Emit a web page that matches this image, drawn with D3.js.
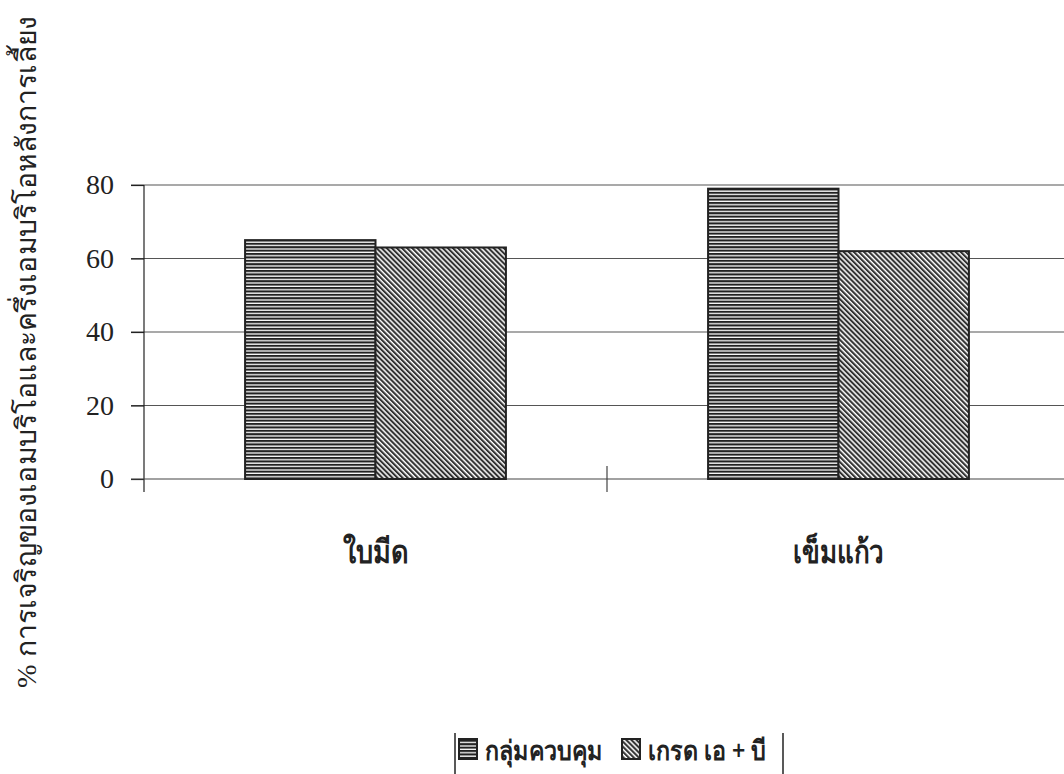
<!DOCTYPE html>
<html>
<head>
<meta charset="utf-8">
<script src="https://cdn.jsdelivr.net/npm/d3@7"></script>
<style>
  body { margin: 0; background: #fff; }
  svg { display: block; }
</style>
</head>
<body>
<div id="chart"></div>
<script>
// chart data
const categories = ["ใบมีด", "เข็มแก้ว"];
const seriesNames = ["กลุ่มควบคุม", "เกรด เอ + บี"];
const controlValues = [65, 79];
const gradeABValues = [63, 62];
const yTicks = [0, 20, 40, 60, 80];
const yTitle = "% การเจริญของเอมบริโอและครึ่งเอมบริโอหลังการเลี้ยง";

const width = 1064, height = 774;
const margin = {top: 185, right: -6, bottom: 295, left: 144};
const plotW = width - margin.left - margin.right;
const plotH = height - margin.top - margin.bottom;

const svg = d3.select("#chart").append("svg")
    .attr("width", width)
    .attr("height", height);

// hatch patterns
let defs = svg.append("defs");
let hp = defs.append("pattern")
    .attr("id", "hstripe")
    .attr("patternUnits", "userSpaceOnUse")
    .attr("width", 8).attr("height", 3.4);
hp.append("rect").attr("width", 8).attr("height", 3.4).attr("fill", "#fff");
hp.append("rect").attr("width", 8).attr("height", 2.1).attr("fill", "#222");

let dp = defs.append("pattern")
    .attr("id", "dstripe")
    .attr("patternUnits", "userSpaceOnUse")
    .attr("width", 3.6).attr("height", 4)
    .attr("patternTransform", "rotate(-45)");
dp.append("rect").attr("width", 3.6).attr("height", 4).attr("fill", "#fff");
dp.append("rect").attr("width", 2.1).attr("height", 4).attr("fill", "#333");

const fills = ["url(#hstripe)", "url(#dstripe)"];

const g = svg.append("g")
    .attr("transform", `translate(${margin.left}, ${margin.top})`);

// scales
let x0 = d3.scaleBand().domain(categories).range([0, plotW]).padding(0);
let y = d3.scaleLinear().domain([0, 80]).range([plotH, 0]);
let gap = 1.55;
let barW = x0.bandwidth() / (2 + gap);
let x1 = d3.scaleBand().domain(seriesNames)
    .range([x0.bandwidth() / 2 - barW, x0.bandwidth() / 2 + barW]);

// gridlines
g.append("g")
    .selectAll("line")
    .data(yTicks.slice(1))
    .enter().append("line")
    .attr("x1", -13).attr("x2", plotW)
    .attr("y1", d => y(d)).attr("y2", d => y(d))
    .attr("stroke", "#555").attr("stroke-width", 1.2);

// y axis
let yAxis = g.append("g")
    .call(d3.axisLeft(y).tickValues(yTicks).tickSize(13).tickPadding(17));
yAxis.select(".domain").remove();
yAxis.selectAll("line").attr("stroke", "#222").attr("stroke-width", 1.2);
yAxis.selectAll("text")
    .attr("fill", "#222")
    .style("font-family", "'Liberation Serif', 'DejaVu Serif', serif")
    .style("font-size", "28px");
g.append("line")
    .attr("x1", 0).attr("x2", 0)
    .attr("y1", 0).attr("y2", plotH + 13)
    .attr("stroke", "#222").attr("stroke-width", 1.2);

// x axis line and category divider ticks
g.append("line")
    .attr("x1", -13).attr("x2", plotW)
    .attr("y1", plotH).attr("y2", plotH)
    .attr("stroke", "#444").attr("stroke-width", 1.2);
g.append("g")
    .selectAll("line")
    .data(categories.slice(1))
    .enter().append("line")
    .attr("x1", d => x0(d)).attr("x2", d => x0(d))
    .attr("y1", plotH - 13).attr("y2", plotH + 13)
    .attr("stroke", "#444").attr("stroke-width", 1.2);

// category labels
let catWidths = [66, 91];
g.append("g")
    .selectAll("text")
    .data(categories)
    .enter().append("text")
    .attr("x", d => x0(d) + x0.bandwidth() / 2 - catWidths[categories.indexOf(d)] / 2)
    .attr("y", plotH + 84)
    .attr("textLength", d => catWidths[categories.indexOf(d)])
    .attr("lengthAdjust", "spacingAndGlyphs")
    .attr("fill", "#222")
    .style("font-family", "'Noto Sans', 'DejaVu Sans', sans-serif")
    .style("font-size", "32px")
    .style("font-weight", "600")
    .text(d => d);

// bars
const series = [controlValues, gradeABValues];
categories.forEach((cat, ci) => {
    seriesNames.forEach((s, si) => {
        g.append("rect")
            .attr("x", x0(cat) + x1(s))
            .attr("y", y(series[si][ci]))
            .attr("width", x1.bandwidth())
            .attr("height", plotH - y(series[si][ci]))
            .attr("fill", fills[si])
            .attr("stroke", "#222")
            .attr("stroke-width", 2);
    });
});

// y title
svg.append("text")
    .attr("transform", `translate(36, 352) rotate(-90)`)
    .attr("text-anchor", "middle")
    .attr("textLength", 672)
    .attr("lengthAdjust", "spacingAndGlyphs")
    .attr("fill", "#222")
    .style("font-family", "'Liberation Serif', 'DejaVu Serif', serif")
    .style("font-size", "28px")
    .text(yTitle);

// legend (only the side borders show in the picture)
let legend = svg.append("g").attr("transform", "translate(455, 733)");
legend.append("line")
    .attr("x1", 0).attr("x2", 0).attr("y1", 0).attr("y2", 45)
    .attr("stroke", "#222").attr("stroke-width", 1.5);
legend.append("line")
    .attr("x1", 328).attr("x2", 328).attr("y1", 0).attr("y2", 45)
    .attr("stroke", "#222").attr("stroke-width", 1.5);
let legX = [4, 167];
let legTextW = [118, 118];
seriesNames.forEach((s, i) => {
    legend.append("rect")
        .attr("x", legX[i]).attr("y", 6)
        .attr("width", 18).attr("height", 20)
        .attr("fill", fills[i])
        .attr("stroke", "#222").attr("stroke-width", 2);
    legend.append("text")
        .attr("x", legX[i] + 26).attr("y", 27)
        .attr("textLength", legTextW[i])
        .attr("lengthAdjust", "spacingAndGlyphs")
        .attr("fill", "#222")
        .style("font-family", "'Noto Sans', 'DejaVu Sans', sans-serif")
        .style("font-size", "27px")
        .style("font-weight", "600")
        .text(s);
});
</script>
</body>
</html>
